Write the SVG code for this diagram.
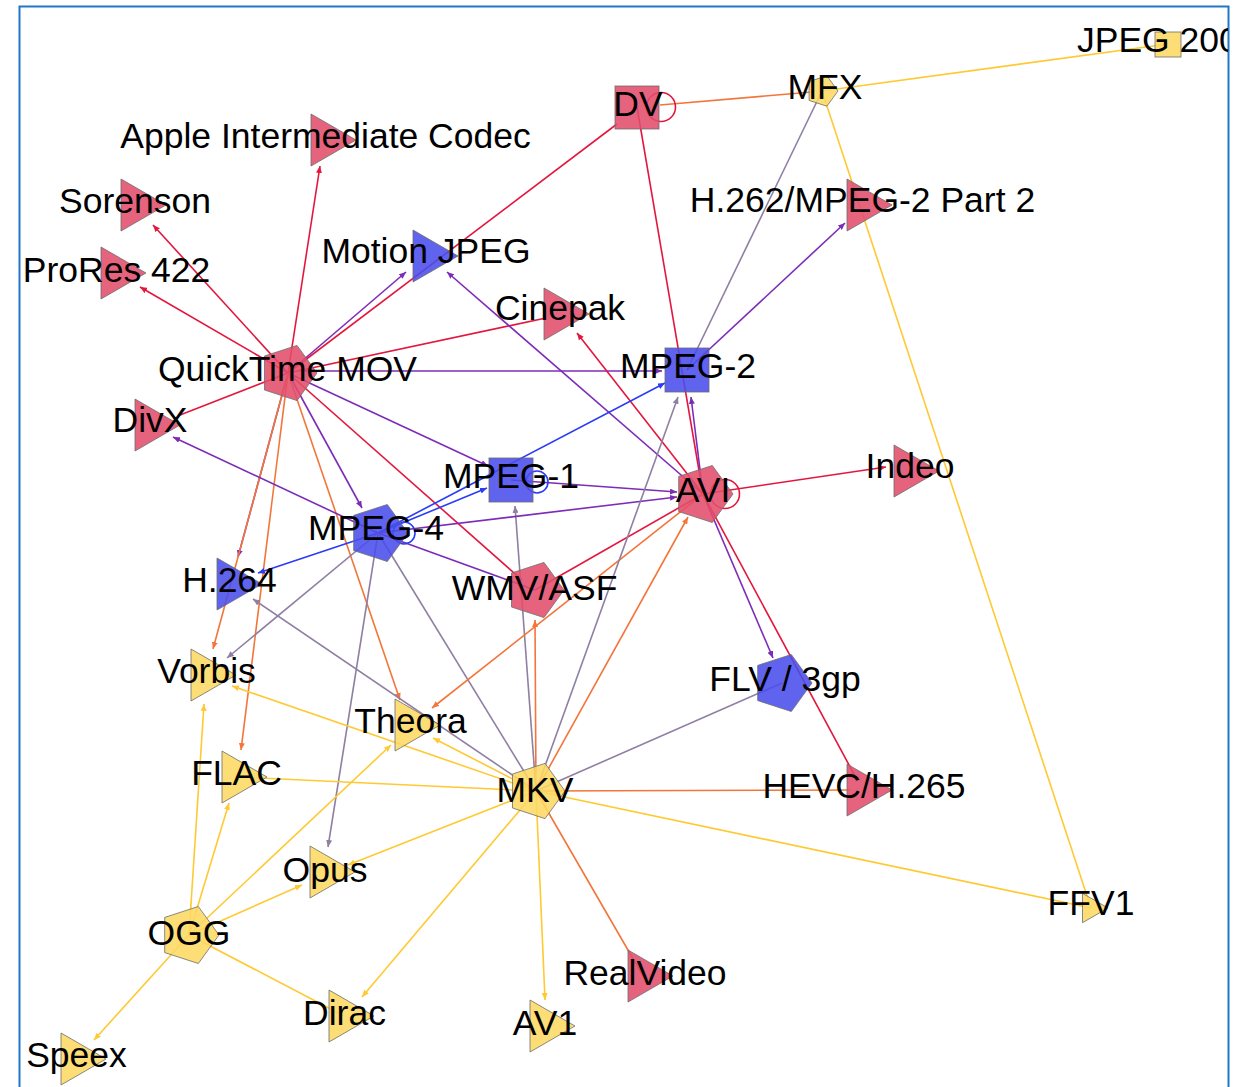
<svg xmlns="http://www.w3.org/2000/svg" width="1250" height="1087" viewBox="0 0 1250 1087">
<defs>
<style>
.e{fill:none;stroke-width:1.6}
.r{stroke:#e3173e}.o{stroke:#f2763b}.p{stroke:#7d2cb8}.b{stroke:#2a3cf5}.g{stroke:#8f7fa3}.y{stroke:#ffc933}
.ar{marker-end:url(#mr)}.ao{marker-end:url(#mo)}.ap{marker-end:url(#mp)}.ab{marker-end:url(#mb)}.ag{marker-end:url(#mg)}.ay{marker-end:url(#my)}
.n{stroke:#6d6d6d;stroke-width:1;stroke-opacity:0.8;fill-opacity:0.88}
.red{fill:#e24d6b}.blue{fill:#4a4deb}.yel{fill:#fdd862}
text{font-family:"Liberation Sans",Arial,sans-serif;font-size:35.5px;fill:#000;text-anchor:middle}
</style>
<marker id="mr" markerUnits="userSpaceOnUse" markerWidth="8" markerHeight="6" refX="7" refY="3" orient="auto"><path d="M0,0 L7,3 L0,6 z" fill="#e3173e"/></marker>
<marker id="mo" markerUnits="userSpaceOnUse" markerWidth="8" markerHeight="6" refX="7" refY="3" orient="auto"><path d="M0,0 L7,3 L0,6 z" fill="#f2763b"/></marker>
<marker id="mp" markerUnits="userSpaceOnUse" markerWidth="8" markerHeight="6" refX="7" refY="3" orient="auto"><path d="M0,0 L7,3 L0,6 z" fill="#7d2cb8"/></marker>
<marker id="mb" markerUnits="userSpaceOnUse" markerWidth="8" markerHeight="6" refX="7" refY="3" orient="auto"><path d="M0,0 L7,3 L0,6 z" fill="#2a3cf5"/></marker>
<marker id="mg" markerUnits="userSpaceOnUse" markerWidth="8" markerHeight="6" refX="7" refY="3" orient="auto"><path d="M0,0 L7,3 L0,6 z" fill="#8f7fa3"/></marker>
<marker id="my" markerUnits="userSpaceOnUse" markerWidth="8" markerHeight="6" refX="7" refY="3" orient="auto"><path d="M0,0 L7,3 L0,6 z" fill="#ffc933"/></marker>
<clipPath id="frame"><rect x="20" y="7" width="1208" height="1090"/></clipPath>
</defs>
<rect width="1250" height="1087" fill="#ffffff"/>
<rect x="19.5" y="6.5" width="1209" height="1100" fill="none" stroke="#2176c7" stroke-width="2"/>
<g id="connectors" clip-path="url(#frame)">
<line class="e r ar" x1="288" y1="373" x2="320" y2="166"/>
<line class="e r ar" x1="288" y1="373" x2="153" y2="225"/>
<line class="e r ar" x1="288" y1="373" x2="140" y2="287"/>
<line class="e p ap" x1="288" y1="373" x2="406" y2="272"/>
<line class="e r" x1="288" y1="373" x2="617" y2="124"/>
<line class="e r" x1="288" y1="373" x2="546" y2="318"/>
<line class="e p ap" x1="300" y1="371" x2="662" y2="371"/>
<line class="e r" x1="288" y1="373" x2="180" y2="415"/>
<line class="e p ap" x1="288" y1="373" x2="488" y2="466"/>
<line class="e p ap" x1="288" y1="373" x2="362" y2="508"/>
<line class="e r" x1="288" y1="373" x2="522" y2="580"/>
<line class="e p ap" x1="288" y1="373" x2="238" y2="557"/>
<line class="e o ao" x1="288" y1="373" x2="213" y2="649"/>
<line class="e o ao" x1="288" y1="373" x2="241" y2="750"/>
<line class="e o ao" x1="288" y1="373" x2="400" y2="700"/>
<line class="e o" x1="660" y1="105" x2="812" y2="92"/>
<line class="e r" x1="637" y1="107" x2="703" y2="494"/>
<circle class="e r" cx="661" cy="107" r="14.5"/>
<line class="e y" x1="822" y1="91" x2="1168" y2="44"/>
<line class="e y" x1="822" y1="91" x2="1091" y2="908"/>
<line class="e g" x1="822" y1="91" x2="687" y2="370"/>
<line class="e p ap" x1="703" y1="494" x2="447" y2="272"/>
<line class="e r ar" x1="703" y1="494" x2="577" y2="333"/>
<line class="e p ap" x1="687" y1="370" x2="845" y2="223"/>
<line class="e p ap" x1="703" y1="494" x2="691" y2="397"/>
<line class="e b ab" x1="378" y1="533" x2="665" y2="383"/>
<line class="e b ab" x1="378" y1="533" x2="487" y2="488"/>
<line class="e p ap" x1="511" y1="480" x2="677" y2="492"/>
<circle class="e b" cx="537" cy="482" r="11"/>
<line class="e g ag" x1="536" y1="791" x2="515" y2="506"/>
<line class="e p ap" x1="378" y1="533" x2="677" y2="497"/>
<line class="e p ap" x1="378" y1="533" x2="173" y2="437"/>
<line class="e b ab" x1="378" y1="533" x2="258" y2="573"/>
<line class="e p" x1="378" y1="533" x2="535" y2="590"/>
<circle class="e b" cx="404" cy="533" r="11"/>
<line class="e g ag" x1="378" y1="533" x2="227" y2="658"/>
<line class="e g ag" x1="378" y1="533" x2="328" y2="847"/>
<line class="e g" x1="378" y1="533" x2="536" y2="791"/>
<line class="e g ag" x1="536" y1="791" x2="253" y2="599"/>
<line class="e r ar" x1="703" y1="494" x2="886" y2="467"/>
<circle class="e r" cx="725" cy="494" r="14.5"/>
<line class="e p ap" x1="703" y1="494" x2="773" y2="658"/>
<line class="e r" x1="703" y1="494" x2="855" y2="776"/>
<line class="e r" x1="535" y1="590" x2="703" y2="494"/>
<line class="e o ao" x1="703" y1="494" x2="432" y2="708"/>
<line class="e o ao" x1="536" y1="791" x2="688" y2="517"/>
<line class="e o ao" x1="536" y1="791" x2="535" y2="620"/>
<line class="e g ag" x1="536" y1="791" x2="678" y2="397"/>
<line class="e g" x1="536" y1="791" x2="782" y2="683"/>
<line class="e o" x1="536" y1="791" x2="850" y2="790"/>
<line class="e y" x1="536" y1="791" x2="1091" y2="908"/>
<line class="e o" x1="536" y1="791" x2="643" y2="976"/>
<line class="e y ay" x1="536" y1="791" x2="545" y2="1000"/>
<line class="e y ay" x1="536" y1="791" x2="362" y2="997"/>
<line class="e y ay" x1="536" y1="791" x2="348" y2="865"/>
<line class="e y" x1="536" y1="791" x2="237" y2="777"/>
<line class="e y ay" x1="536" y1="791" x2="433" y2="738"/>
<line class="e y ay" x1="536" y1="791" x2="232" y2="686"/>
<line class="e y ay" x1="189" y1="935" x2="204" y2="704"/>
<line class="e y ay" x1="189" y1="935" x2="229" y2="803"/>
<line class="e y ay" x1="189" y1="935" x2="391" y2="745"/>
<line class="e y ay" x1="189" y1="935" x2="302" y2="885"/>
<line class="e y" x1="189" y1="935" x2="344" y2="1016"/>
<line class="e y ay" x1="189" y1="935" x2="94" y2="1040"/>
</g>
<g id="nodes" clip-path="url(#frame)">
<g id="n-apple"><polygon class="n red" points="356,140 311,166 311,114"/><text x="325.5" y="148">Apple Intermediate Codec</text></g>
<g id="n-sorenson"><polygon class="n red" points="166,205 121,231 121,179"/><text x="135" y="213">Sorenson</text></g>
<g id="n-prores"><polygon class="n red" points="146,273 101,299 101,247"/><text x="116.5" y="282">ProRes 422</text></g>
<g id="n-motionjpeg"><polygon class="n blue" points="458,256 413,282 413,230"/><text x="426" y="263">Motion JPEG</text></g>
<g id="n-dv"><rect class="n red" x="615" y="86" width="44" height="43"/><text x="638" y="116">DV</text></g>
<g id="n-mfx"><polygon class="n yel" points="838,91 826.9,106.2 809.1,100.4 809.1,81.6 826.9,75.8"/><text x="825" y="99">MFX</text></g>
<g id="n-jpeg2000"><rect class="n yel" x="1155" y="32" width="26" height="25"/><text x="1077" y="52" style="text-anchor:start">JPEG 2000</text></g>
<g id="n-h262"><polygon class="n red" points="892,205 847,231 847,179"/><text x="862.5" y="212">H.262/MPEG-2 Part 2</text></g>
<g id="n-cinepak"><polygon class="n red" points="589,314 544,340 544,288"/><text x="560" y="320">Cinepak</text></g>
<g id="n-mpeg2"><rect class="n blue" x="665" y="348" width="44" height="44"/><text x="688" y="378">MPEG-2</text></g>
<g id="n-quicktime"><polygon class="n red" points="317,373 297,400.6 264.5,390 264.5,356 297,345.4"/><text x="287.5" y="381">QuickTime MOV</text></g>
<g id="n-divx"><polygon class="n red" points="180,425 135,451 135,399"/><text x="150" y="432">DivX</text></g>
<g id="n-mpeg1"><rect class="n blue" x="489" y="458" width="44" height="44"/><text x="511" y="488">MPEG-1</text></g>
<g id="n-avi"><polygon class="n red" points="733,494 712.3,522.5 678.7,511.6 678.7,476.4 712.3,465.5"/><text x="703" y="502">AVI</text></g>
<g id="n-indeo"><polygon class="n red" points="939,471 894,497 894,445"/><text x="910" y="478">Indeo</text></g>
<g id="n-mpeg4"><polygon class="n blue" points="408,533 387.3,561.5 353.7,550.6 353.7,515.4 387.3,504.5"/><text x="376" y="540">MPEG-4</text></g>
<g id="n-h264"><polygon class="n blue" points="262,584 217,610 217,558"/><text x="229.5" y="592">H.264</text></g>
<g id="n-wmv"><polygon class="n red" points="564,590 544,617.6 511.5,607 511.5,573 544,562.4"/><text x="534.5" y="600">WMV/ASF</text></g>
<g id="n-flv"><polygon class="n blue" points="812,683 791.3,711.5 757.7,700.6 757.7,665.4 791.3,654.5"/><text x="785" y="691">FLV / 3gp</text></g>
<g id="n-hevc"><polygon class="n red" points="892,790 847,816 847,764"/><text x="864" y="798">HEVC/H.265</text></g>
<g id="n-vorbis"><polygon class="n yel" points="236,675 191,701 191,649"/><text x="206.5" y="683">Vorbis</text></g>
<g id="n-theora"><polygon class="n yel" points="440,725 395,751 395,699"/><text x="410.5" y="733">Theora</text></g>
<g id="n-flac"><polygon class="n yel" points="267,777 222,803 222,751"/><text x="236.5" y="785">FLAC</text></g>
<g id="n-mkv"><polygon class="n yel" points="565,791 545,818.6 512.5,808 512.5,774 545,763.4"/><text x="535" y="802">MKV</text></g>
<g id="n-opus"><polygon class="n yel" points="355,872 310,898 310,846"/><text x="325" y="882">Opus</text></g>
<g id="n-ffv1"><polygon class="n yel" points="1108,908 1082.5,922.7 1082.5,893.3"/><text x="1091" y="915">FFV1</text></g>
<g id="n-ogg"><polygon class="n yel" points="219,935 198.3,963.5 164.7,952.6 164.7,917.4 198.3,906.5"/><text x="189" y="945">OGG</text></g>
<g id="n-realvideo"><polygon class="n red" points="673,976 628,1002 628,950"/><text x="645" y="985">RealVideo</text></g>
<g id="n-dirac"><polygon class="n yel" points="374,1016 329,1042 329,990"/><text x="344.5" y="1025">Dirac</text></g>
<g id="n-av1"><polygon class="n yel" points="575,1026 530,1052 530,1000"/><text x="545" y="1035">AV1</text></g>
<g id="n-speex"><polygon class="n yel" points="106,1059 61,1085 61,1033"/><text x="76.5" y="1067">Speex</text></g>
</g>
</svg>
